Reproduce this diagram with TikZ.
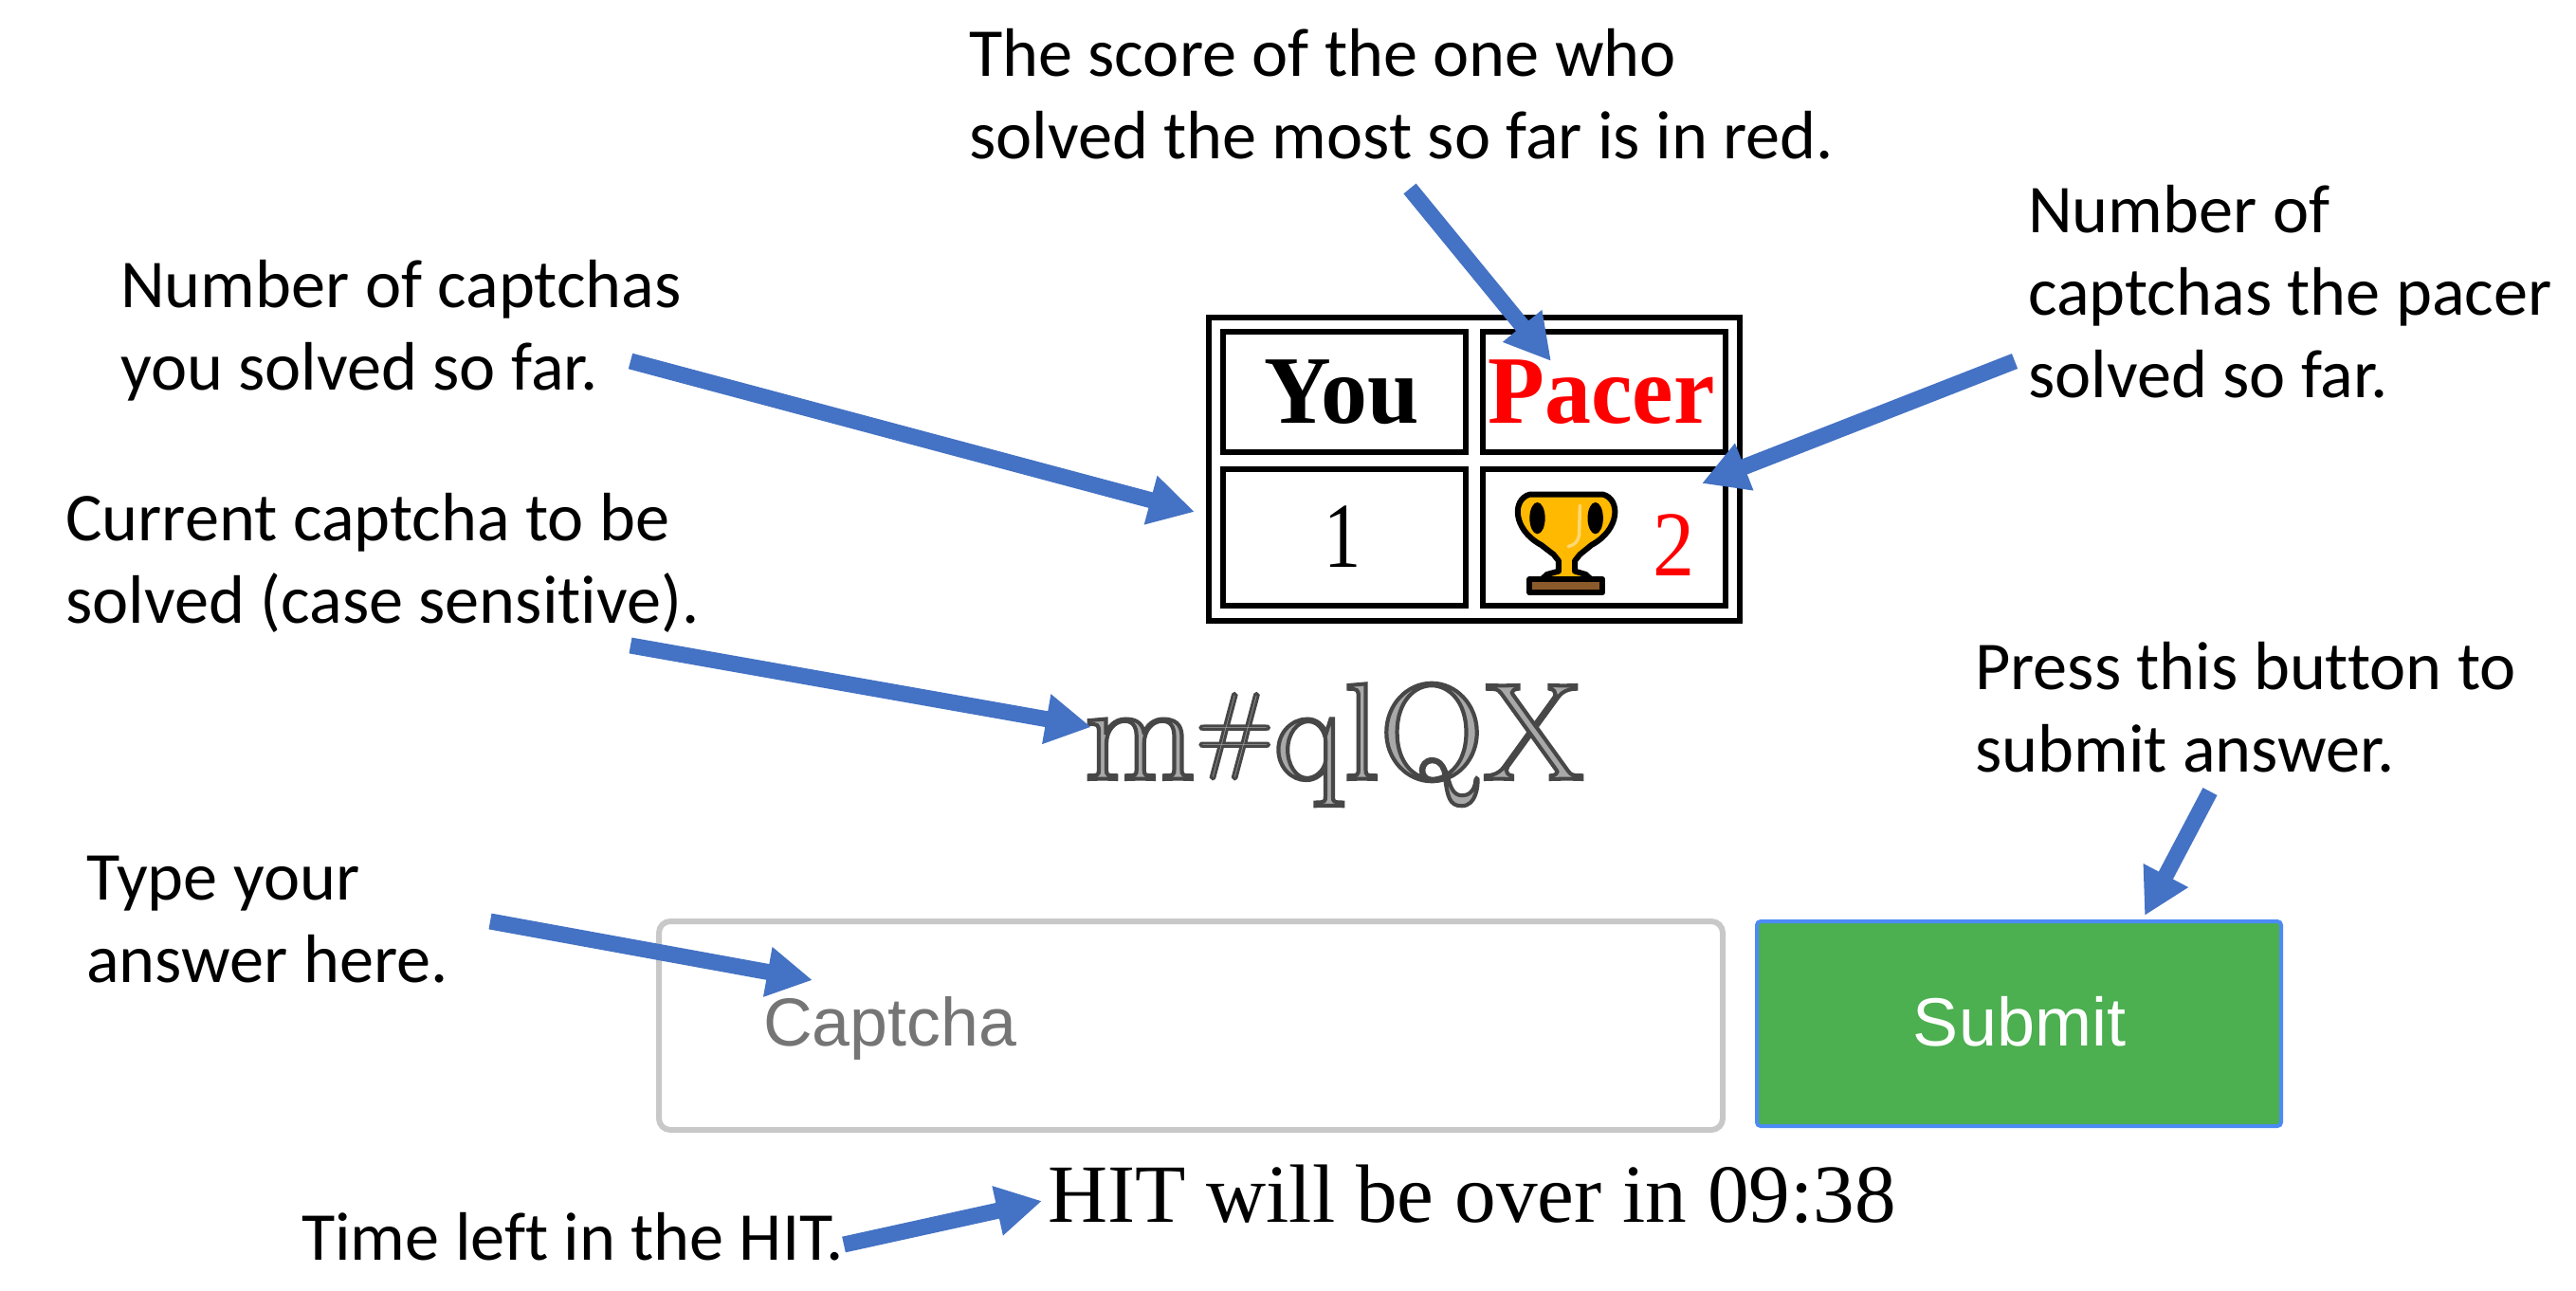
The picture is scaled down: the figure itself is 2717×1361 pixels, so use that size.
\documentclass[tikz,border=0pt]{standalone}
\usepackage{fontspec}
\setmainfont[Ligatures=NoCommon]{Carlito}
\newfontfamily\arialf{Liberation Sans}
\newfontfamily\timesf{Liberation Serif}
\newfontfamily\capf{Latin Modern Roman}
\usetikzlibrary{arrows.meta}
\definecolor{arrowblue}{HTML}{4472C4}
\definecolor{btngreen}{HTML}{4CAF50}
\definecolor{btnblue}{HTML}{4C8BF5}
\definecolor{boxgray}{HTML}{C8C8C8}
\definecolor{phgray}{HTML}{757575}
\definecolor{gold}{HTML}{FFB900}
\definecolor{goldlight}{HTML}{FFD873}
\definecolor{brownbase}{HTML}{8B5A2B}
\tikzset{
  label/.style={anchor=base west,inner sep=0pt,align=left,font=\fontsize{72.3}{87}\selectfont},
  frame/.style={draw=black,line width=6pt,inner sep=0pt,anchor=north west},
  cell/.style={anchor=base,inner sep=0pt},
  callout/.style={draw=arrowblue,line width=17pt,-{Triangle[length=48pt,width=50pt,fill=arrowblue]}},
}
\newcommand{\narrow}[2][.96]{\scalebox{#1}[1]{#2}}
\newcommand{\capstroke}{\special{pdf:code 2 Tr 4 w 0.28 0.28 0.28 RG 0.66 0.66 0.66 rg}}
\begin{document}
\begin{tikzpicture}[x=1pt,y=-1pt]
\useasboundingbox (0,0) rectangle (2717,1361);
% table
\node[frame,minimum width=560pt,minimum height=320pt] (tbl) at (1272,332) {};
\node[frame,minimum width=256pt,minimum height=127pt] (cyou) at (1287,347) {};
\node[frame,minimum width=256pt,minimum height=127pt] (cpacer) at (1561,347) {};
\node[frame,minimum width=256pt,minimum height=144pt] (cone) at (1287,492) {};
\node[frame,minimum width=256pt,minimum height=144pt] (ctwo) at (1561,492) {};
\node[cell,font=\timesf\bfseries\fontsize{102}{102}\selectfont] (tyou) at (1415,446) {\narrow{You}};
\node[cell,font=\timesf\bfseries\fontsize{102}{102}\selectfont,text=red] (tpacer) at (1689,446) {\narrow{Pacer}};
\node[cell,font=\timesf\fontsize{98}{98}\selectfont] (tone) at (1416,598) {\narrow[.8]{1}};
\node[cell,font=\timesf\fontsize{98}{98}\selectfont,text=red] (ttwo) at (1766,607) {\narrow[.9]{2}};
% trophy
\begin{scope}[shift={(1240,310)},x=0.408pt,y=-0.3333pt]
  \draw[black,line width=6pt,fill=gold,line join=round]
    (915,635) -- (1105,635)
    .. controls (1150,650) and (1150,745) .. (1075,795)
    -- (1045,825) -- (1032,845) -- (1032,878) -- (1060,888) -- (1075,905)
    -- (945,905) -- (960,888) -- (990,878) -- (990,845) -- (977,825) -- (945,795)
    .. controls (870,745) and (870,650) .. (915,635) -- cycle;
  \fill[black] (935,710) ellipse [x radius=20,y radius=50];
  \fill[black] (1085,710) ellipse [x radius=20,y radius=50];
  \draw[goldlight,line width=3.5pt,line cap=round] (1045,670) -- (1043,765) .. controls (1040,785) and (1030,795) .. (1015,800);
  \draw[black,line width=6pt,fill=brownbase,line join=round] (915,903) rectangle (1103,946);
\end{scope}
% captcha image text
\node[cell,font=\capf\fontsize{145}{145}\selectfont] (capt) at (1407,822) {\narrow[1.05]{\capstroke m\raisebox{20pt}{\scalebox{.7}{\capstroke\#}}\capstroke qlQX}};
% input
\node[draw=boxgray,line width=6pt,rounded corners=12pt,fill=white,inner sep=0pt,anchor=north west,minimum width=1122pt,minimum height=220pt] (input) at (692,969) {};
\node[anchor=base west,inner sep=0pt,font=\arialf\fontsize{71.7}{72}\selectfont,text=phgray] (ph) at (805,1103) {Captcha};
\node[draw=btnblue,line width=4pt,rounded corners=4pt,fill=btngreen,inner sep=0pt,anchor=north west,minimum width=553pt,minimum height=216pt] (submit) at (1851,970) {};
\node[anchor=base,inner sep=0pt,font=\arialf\fontsize{72}{72}\selectfont,text=white] (subtxt) at (2130,1103) {Submit};
\node[anchor=base west,inner sep=0pt,font=\timesf\fontsize{87.3}{88}\selectfont] (hit) at (1105,1289) {HIT will be over in 09:38};
% labels
\node[label] (l1) at (1022,167) {The score of the one who\\solved the most so far is in red.};
\node[label] (l2) at (127,411) {Number of captchas\\you solved so far.};
\node[label] (l3) at (2139,419.5) {Number of\\captchas the pacer\\solved so far.};
\node[label] (l4) at (69,657) {Current captcha to be\\solved (case sensitive).};
\node[label] (l5) at (2083,814.5) {Press this button to\\submit answer.};
\node[label] (l6) at (91,1036) {Type your\\answer here.};
\node[label] (l7) at (318,1329) {Time left in the HIT.};
% arrows
\coordinate (a1s) at (1487,199); \coordinate (a1e) at (1636,381);
\coordinate (a2s) at (665,381);  \coordinate (a2e) at (1260,540);
\coordinate (a3s) at (2125,381); \coordinate (a3e) at (1795,510);
\coordinate (a4s) at (665,681);  \coordinate (a4e) at (1151,767);
\coordinate (a5s) at (517,972);  \coordinate (a5e) at (857,1034);
\coordinate (a6s) at (890,1313); \coordinate (a6e) at (1099,1267);
\coordinate (a7s) at (2331,835); \coordinate (a7e) at (2262,966);
\draw[callout] (a1s) -- (a1e);
\draw[callout] (a2s) -- (a2e);
\draw[callout] (a3s) -- (a3e);
\draw[callout] (a4s) -- (a4e);
\draw[callout] (a5s) -- (a5e);
\draw[callout] (a6s) -- (a6e);
\draw[callout] (a7s) -- (a7e);
\end{tikzpicture}
\end{document}
